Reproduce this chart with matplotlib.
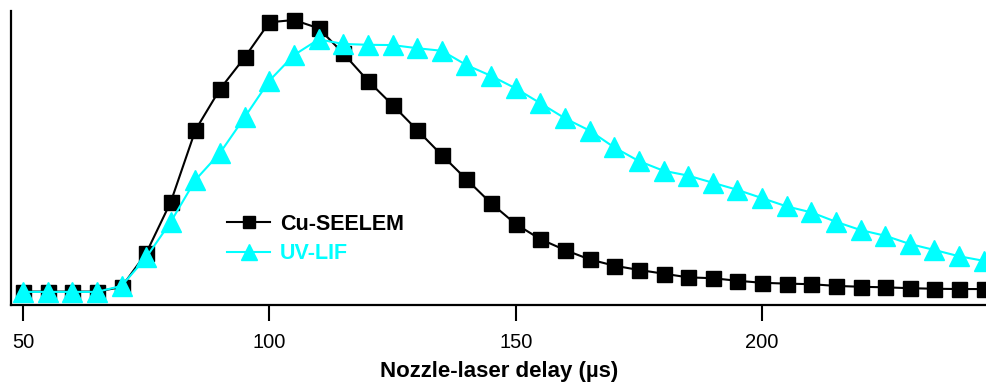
import numpy as np
import matplotlib
matplotlib.use("Agg")
import matplotlib.pyplot as plt

plt.rcParams['font.family'] = ['Liberation Sans', 'DejaVu Sans']

delay = list(range(50, 250, 5))
cu_seelem = [0.047, 0.047, 0.047, 0.047, 0.063, 0.182, 0.362, 0.614, 0.758, 0.869,
             0.992, 1.000, 0.971, 0.883, 0.787, 0.702, 0.614, 0.526, 0.441, 0.357,
             0.284, 0.231, 0.193, 0.160, 0.138, 0.123, 0.110, 0.097, 0.094, 0.085,
             0.078, 0.075, 0.073, 0.067, 0.064, 0.062, 0.059, 0.057, 0.056, 0.056]
uv_lif = [0.046, 0.046, 0.046, 0.046, 0.067, 0.167, 0.292, 0.439, 0.534, 0.659,
          0.787, 0.877, 0.932, 0.916, 0.913, 0.912, 0.901, 0.892, 0.842, 0.804,
          0.760, 0.708, 0.655, 0.612, 0.553, 0.505, 0.471, 0.454, 0.429, 0.404,
          0.375, 0.346, 0.325, 0.292, 0.263, 0.243, 0.214, 0.193, 0.171, 0.155]
xticks = [50, 100, 150, 200]

W, H = 987, 383
fig = plt.figure(figsize=(W / 100, H / 100), dpi=100)
ax = fig.add_axes([11 / W, (H - 305) / H, 976 / W, 294 / H])

ax.plot(delay, cu_seelem, color='black', lw=1.5, marker='s', ms=10.8,
        label='Cu-SEELEM', clip_on=True)
ax.plot(delay, uv_lif, color='#00FFFF', lw=1.5, marker='^', ms=14,
        label='UV-LIF', clip_on=True)

ax.set_xlim(47.56, 245.66)
ax.set_ylim(0, 1.0316)
ax.set_xticks(xticks)
ax.set_xticklabels([str(t) for t in xticks])
ax.set_yticks([])
for s in ['top', 'right']:
    ax.spines[s].set_visible(False)
for s in ['left', 'bottom']:
    ax.spines[s].set_linewidth(1.6)
ax.tick_params(axis='x', direction='out', length=11.5, width=1.5,
               labelsize=14.5, pad=9)
ax.set_xlabel('Nozzle-laser delay (\u00b5s)', fontsize=16, fontweight='bold',
              labelpad=6.5)

leg = ax.legend(loc='upper left', bbox_to_anchor=((227 - 11) / 976, (305 - 213.5) / 294),
                frameon=False, borderpad=0, borderaxespad=0, handlelength=2.0,
                handletextpad=0.47, labelspacing=0.41, markerscale=0.85,
                prop={'weight': 'bold', 'size': 15.5})
for txt, line in zip(leg.get_texts(), leg.get_lines()):
    txt.set_color(line.get_color())

fig.savefig('out.png', dpi=100)
